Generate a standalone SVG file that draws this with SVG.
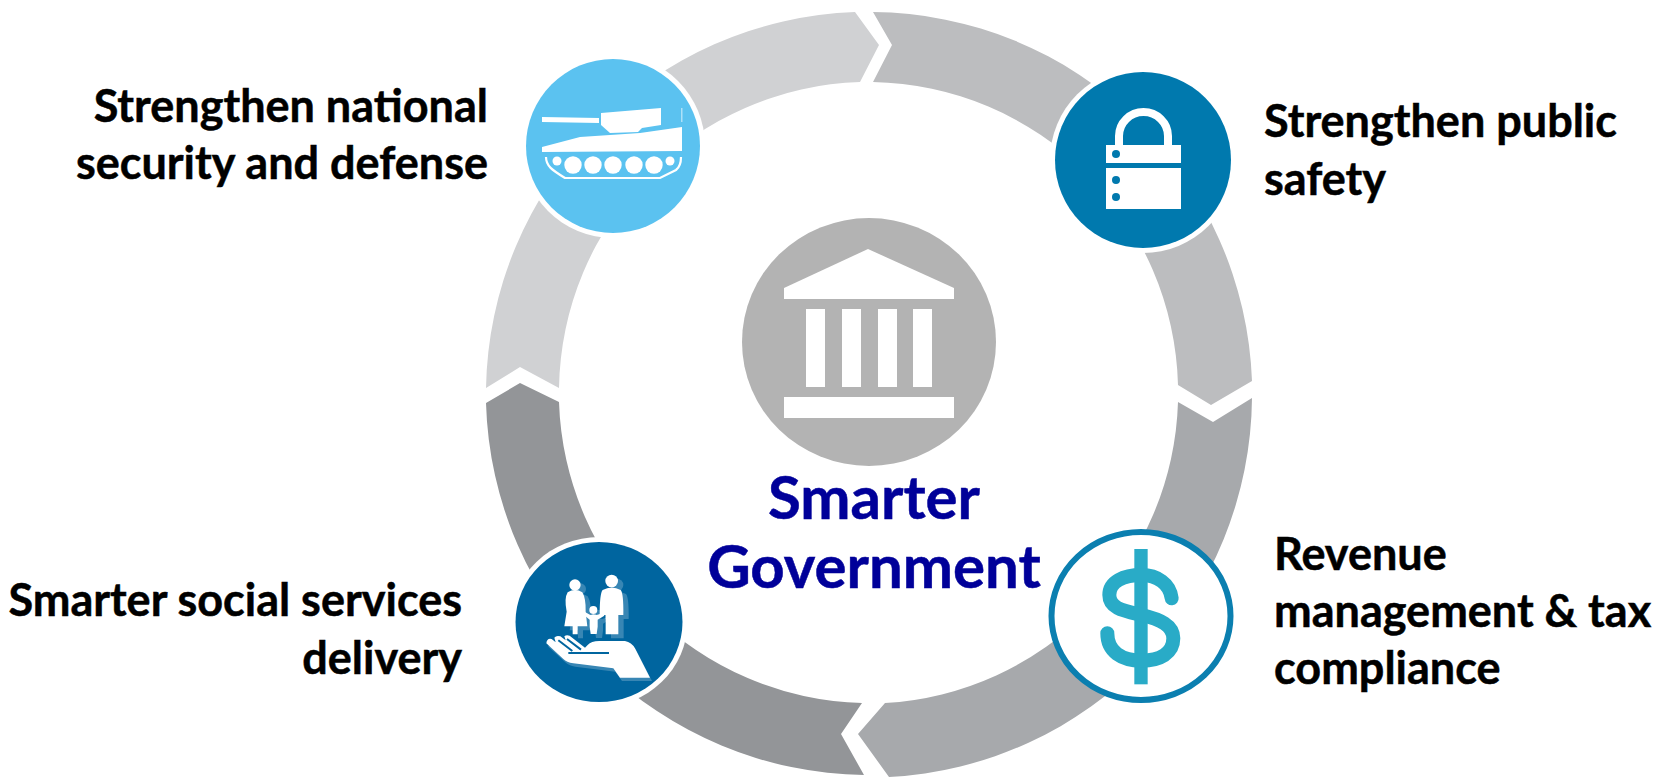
<svg xmlns="http://www.w3.org/2000/svg" width="1669" height="779" viewBox="0 0 1669 779">
<style>
.t{font-family:"Lato","Liberation Sans",sans-serif;font-weight:700;font-size:45px;fill:#000;stroke:#000;stroke-width:.5}
.c{font-family:"Lato","Liberation Sans",sans-serif;font-weight:700;font-size:60px;fill:#000099;stroke:#000099;stroke-width:.5;text-anchor:middle}
.e{text-anchor:end}
.w{fill:#fff}
</style>
<defs>
<g id="family">
<circle cx="120" cy="60" r="17"/>
<path d="M98 82Q120 68 142 82Q153 100 152 140L157 184H128V208H113V184H88L95 140Q87 100 98 82Z"/>
<circle cx="230" cy="48" r="19"/>
<path d="M203 75Q230 60 257 75Q266 85 265 150H250V208H212V150H194Q194 85 203 75Z"/>
<circle cx="175" cy="135" r="12"/>
<path d="M150 141L166 150Q175 146 185 150L205 144L208 152L188 164V185L185 207H167L164 185V164L147 150Z"/>
</g>
<path id="hand" d="M34 235Q36 218 50 222L62 232L58 218Q64 210 76 214L92 226L88 214Q94 208 104 212L150 248L158 240Q170 226 200 228L270 228Q290 232 300 250L345 338H255L235 310L115 295Q95 292 85 282Z"/>
</defs>
<rect width="1669" height="779" fill="#fff"/>
<g id="connectors">
<path fill="#d0d1d3" d="M855 12A383 383 0 0 0 486 388L520 367L559 388A311 311 0 0 1 860 82L879 45Z"/>
<path fill="#bcbdbf" d="M873 12A383 383 0 0 1 1252 381L1211 405L1178 385A311 311 0 0 0 873 82L892 45Z"/>
<path fill="#a7a9ac" d="M1252 398A383 383 0 0 1 889 777L858 734L885 703A311 311 0 0 0 1178 402L1213 422Z"/>
<path fill="#939598" d="M864 775A383 383 0 0 1 486 403L520 383L559 402A311 311 0 0 0 862 703L841 734Z"/>
</g>
<g id="center">
<ellipse cx="869" cy="342" rx="127" ry="124" fill="#b3b3b3"/>
<path class="w" d="M784 288L868 249L954 288V299H784Z"/>
<rect class="w" x="806" y="309" width="19" height="78"/><rect class="w" x="842" y="309" width="19" height="78"/><rect class="w" x="878" y="309" width="19" height="78"/><rect class="w" x="913" y="309" width="19" height="78"/>
<rect class="w" x="784" y="397" width="170" height="21"/>
<text class="c" x="874" y="519">Smarter</text>
<text class="c" x="874" y="588">Government</text>
</g>
<g id="node-defense">
<circle cx="613" cy="146" r="92" fill="#fff"/>
<circle cx="613" cy="146" r="87" fill="#5bc2f0"/>
<path class="w" d="M542 117L599 118V123L542 122ZM601 113L661 108V125L642 128L638 132L610 133L601 125ZM542 147L580 137L640 133L682 127V151L542 152Z"/>
<rect class="w" x="681" y="108" width="1.5" height="14" opacity=".5"/>
<g class="w"><circle cx="557" cy="161" r="4.5"/><circle cx="670" cy="161" r="4.5"/><circle cx="573" cy="165" r="8.7"/><circle cx="593" cy="165" r="8.7"/><circle cx="613" cy="165" r="8.7"/><circle cx="634" cy="165" r="8.7"/><circle cx="654" cy="165" r="8.7"/></g>
<path fill="none" stroke="#fff" stroke-width="2.2" d="M546 157C546 166 552 170 565 178H660L676 170C680 167 681 162 681 157"/>
<text class="t e" x="488" y="122">Strengthen national</text>
<text class="t e" x="488" y="179">security and defense</text>
</g>
<g id="node-safety">
<circle cx="1143" cy="160" r="93" fill="#fff"/>
<circle cx="1143" cy="160" r="88" fill="#0079ae"/>
<path fill="none" stroke="#fff" stroke-width="8" d="M1119 146V136A24.500 24 0 0 1 1168 136V146"/>
<rect class="w" x="1106" y="145" width="75" height="18"/>
<rect class="w" x="1106" y="168" width="75" height="41"/>
<g fill="#0079ae"><circle cx="1116" cy="154" r="4"/><circle cx="1116" cy="180" r="4"/><circle cx="1116" cy="197" r="4"/></g>
<text class="t" x="1264" y="137">Strengthen public</text>
<text class="t" x="1264" y="195">safety</text>
</g>
<g id="node-revenue">
<ellipse cx="1141" cy="616" rx="89.500" ry="84" fill="#fff" stroke="#0b7fb0" stroke-width="6"/>
<g transform="translate(1080 540) scale(.3333)">
<rect x="163" y="27" width="40" height="406" fill="#29abc7"/>
<path fill="none" stroke="#29abc7" stroke-width="42" stroke-linecap="round" d="M275 175C270 130 230 105 185 105C130 105 88 125 88 165C88 205 130 212 185 225C240 238 280 255 280 295C280 340 240 362 185 362C125 362 82 335 82 280"/>
</g>
<text class="t" x="1274" y="570">Revenue</text>
<text class="t" x="1274" y="627">management &amp; tax</text>
<text class="t" x="1274" y="684">compliance</text>
</g>
<g id="node-social">
<ellipse cx="599" cy="622" rx="88.500" ry="85" fill="#fff"/>
<ellipse cx="599" cy="622" rx="83.500" ry="80" fill="#00659f"/>
<g transform="translate(535 565) scale(.3333)">
<use href="#family" x="16" y="12" fill="#fff" fill-opacity=".22"/>
<use href="#hand" x="6" y="10" fill="#fff" fill-opacity=".22"/>
<use href="#family" fill="#fff"/>
<use href="#hand" fill="#fff"/>
<path fill="none" stroke="#00659f" stroke-width="6" d="M100 264H222M70 226L112 258M96 222L138 254"/>
</g>
<text class="t e" x="462" y="616">Smarter social services</text>
<text class="t e" x="462" y="674">delivery</text>
</g>
</svg>
